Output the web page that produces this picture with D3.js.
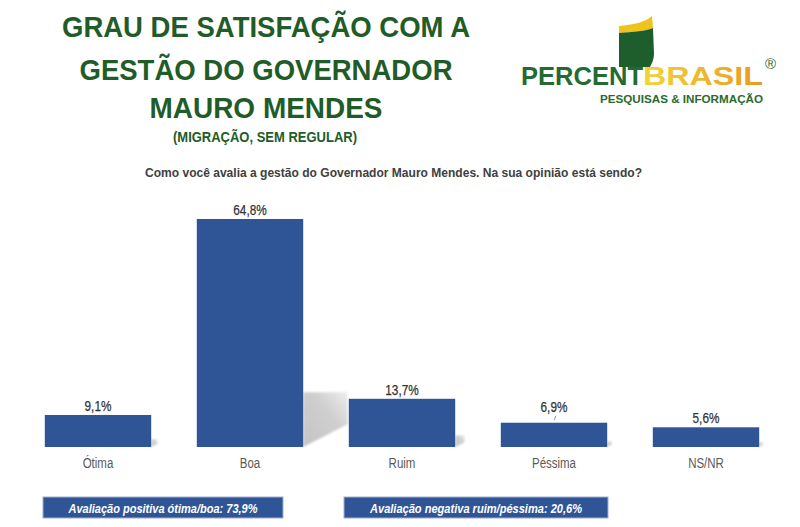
<!DOCTYPE html>
<html>
<head>
<meta charset="utf-8">
<script src="https://cdn.jsdelivr.net/npm/d3@7"></script>
<style>
  html, body { margin: 0; padding: 0; background: #fff; }
  svg { display: block; }
</style>
</head>
<body>
<svg id="chart" width="800" height="527"></svg>
<script>
// data
var categories = ['Ótima', 'Boa', 'Ruim', 'Péssima', 'NS/NR'];
var values = [9.1, 64.8, 13.7, 6.9, 5.6];
var valueLabels = ['9,1%', '64,8%', '13,7%', '6,9%', '5,6%'];
var titleLines = ['GRAU DE SATISFAÇÃO COM A', 'GESTÃO DO GOVERNADOR', 'MAURO MENDES'];
var subtitle = '(MIGRAÇÃO, SEM REGULAR)';
var question = 'Como você avalia a gestão do Governador Mauro Mendes. Na sua opinião está sendo?';
var summaryLabels = ['Avaliação positiva ótima/boa: 73,9%', 'Avaliação negativa ruim/péssima: 20,6%'];

var narrow = '"Liberation Sans Narrow", "Arial Narrow", "Liberation Sans", Arial, sans-serif';
var barColor = '#2f5597';
var green = '#1f5c28';

// no narrow face installed: squeeze the regular one horizontally
function squeeze(sel, k) {
    sel.each(function () {
        var w = this.getComputedTextLength();
        d3.select(this)
            .attr('textLength', w * k)
            .attr('lengthAdjust', 'spacingAndGlyphs');
    });
}

var svg = d3.select('#chart');
var defs = svg.append('defs');

var shadowGrad = defs.append('linearGradient')
    .attr('id', 'shadowGrad')
    .attr('x1', 0).attr('y1', 1).attr('x2', 1).attr('y2', 0);
shadowGrad.append('stop').attr('offset', 0).attr('stop-color', '#c4c4c4');
shadowGrad.append('stop').attr('offset', 0.6).attr('stop-color', '#cfcfcf');
shadowGrad.append('stop').attr('offset', 1).attr('stop-color', '#ededed');
defs.append('filter').attr('id', 'soft')
    .append('feGaussianBlur').attr('stdDeviation', 1.2);

var brasilGrad = defs.append('linearGradient').attr('id', 'brasilGrad');
brasilGrad.append('stop').attr('offset', 0).attr('stop-color', '#f3d43a');
brasilGrad.append('stop').attr('offset', 1).attr('stop-color', '#e89a22');

// ---- title block
var titleBaselines = [37, 80, 118];
var titleWidths = [408, 373, 233];
svg.append('g').selectAll('text')
    .data(titleLines)
    .enter().append('text')
    .attr('x', 266)
    .attr('y', function (d, i) { return titleBaselines[i]; })
    .attr('text-anchor', 'middle')
    .attr('textLength', function (d, i) { return titleWidths[i]; })
    .attr('lengthAdjust', 'spacingAndGlyphs')
    .style('font', 'bold 30px ' + narrow)
    .style('fill', green)
    .text(function (d) { return d; });

svg.append('text')
    .attr('x', 265).attr('y', 142)
    .attr('text-anchor', 'middle')
    .attr('textLength', 184)
    .attr('lengthAdjust', 'spacingAndGlyphs')
    .style('font', 'bold 15px ' + narrow)
    .style('fill', green)
    .text(subtitle);

// ---- logo
var logo = svg.append('g');
logo.append('path')
    .attr('d', 'M619,26 C632,25 646,22 652,16 L653,28 C646,31 632,32 619,33 Z')
    .attr('fill', '#f0c21c');
logo.append('path')
    .attr('d', 'M619,33 C632,32 646,31 653,28 L654,54 C654,59 652,63 650,67 L619,67 Z')
    .attr('fill', '#1d5e2c');
logo.append('text')
    .attr('x', 521).attr('y', 85)
    .attr('textLength', 122)
    .attr('lengthAdjust', 'spacingAndGlyphs')
    .style('font', 'bold 25px ' + narrow)
    .style('fill', '#236b30')
    .text('PERCENT');
logo.append('text')
    .attr('x', 643).attr('y', 85)
    .attr('textLength', 120)
    .attr('lengthAdjust', 'spacingAndGlyphs')
    .style('font', 'bold 25px ' + narrow)
    .style('fill', 'url(#brasilGrad)')
    .text('BRASIL');
logo.append('text')
    .attr('x', 765).attr('y', 69)
    .style('font', '15px ' + narrow)
    .style('fill', '#2a6a2e')
    .text('®');
logo.append('text')
    .attr('x', 600).attr('y', 103)
    .attr('textLength', 163)
    .attr('lengthAdjust', 'spacingAndGlyphs')
    .style('font', 'bold 11px ' + narrow)
    .style('fill', '#2a6a2e')
    .text('PESQUISAS & INFORMAÇÃO');

// ---- question
svg.append('text')
    .attr('x', 393.5).attr('y', 177)
    .attr('text-anchor', 'middle')
    .attr('textLength', 497)
    .attr('lengthAdjust', 'spacingAndGlyphs')
    .style('font', 'bold 13px ' + narrow)
    .style('fill', '#404040')
    .text(question);

// ---- bars
var x = d3.scaleBand()
    .domain(categories)
    .range([22, 782])
    .paddingInner(0.3)
    .paddingOuter(0.15);
var y = d3.scaleLinear()
    .domain([0, d3.max(values)])
    .range([447, 219]);
var bw = x.bandwidth();
var rows = categories.map(function (c, i) {
    return { cat: c, value: values[i], label: valueLabels[i] };
});

// floor shadow behind each bar
svg.append('g').selectAll('polygon')
    .data(rows)
    .enter().append('polygon')
    .attr('points', function (d) {
        var x1 = x(d.cat) + bw, b = y(0), h = y(0) - y(d.value);
        return [[x1, b - 0.24 * h], [x1 + 0.195 * h, b - 0.24 * h],
                [x1 + 0.195 * h, b - 0.1 * h], [x1, b]].join(' ');
    })
    .attr('fill', 'url(#shadowGrad)')
    .attr('filter', 'url(#soft)');

svg.append('g').selectAll('rect')
    .data(rows)
    .enter().append('rect')
    .attr('x', function (d) { return x(d.cat); })
    .attr('y', function (d) { return y(d.value); })
    .attr('width', bw)
    .attr('height', function (d) { return y(0) - y(d.value); })
    .attr('fill', barColor);

// value labels (Péssima sits higher with a small leader)
var lift = function (d) { return d.cat === 'Péssima' ? 11 : 4; };
svg.append('g').selectAll('text')
    .data(rows)
    .enter().append('text')
    .attr('x', function (d) { return x(d.cat) + bw / 2; })
    .attr('y', function (d) { return y(d.value) - lift(d); })
    .attr('text-anchor', 'middle')
    .style('font', '14px ' + narrow)
    .style('fill', '#333')
    .style('stroke', '#333')
    .style('stroke-width', 0.25)
    .text(function (d) { return d.label; })
    .call(squeeze, 0.84);
svg.append('line')
    .attr('x1', x('Péssima') + bw / 2 + 2).attr('y1', y(6.9) - 7)
    .attr('x2', x('Péssima') + bw / 2).attr('y2', y(6.9) - 2.5)
    .attr('stroke', '#777').attr('stroke-width', 0.8);

// category labels
svg.append('g').selectAll('text')
    .data(categories)
    .enter().append('text')
    .attr('x', function (d) { return x(d) + bw / 2; })
    .attr('y', 468)
    .attr('text-anchor', 'middle')
    .style('font', '14px ' + narrow)
    .style('fill', '#595959')
    .text(function (d) { return d; })
    .call(squeeze, 0.82);

// ---- summary boxes
var boxes = [
    { x0: 43, x1: 283, tw: 189 },
    { x0: 344, x1: 608, tw: 212 }
];
var box = svg.append('g').selectAll('g')
    .data(summaryLabels)
    .enter().append('g');
box.append('rect')
    .attr('x', function (d, i) { return boxes[i].x0; })
    .attr('y', 497)
    .attr('width', function (d, i) { return boxes[i].x1 - boxes[i].x0; })
    .attr('height', 21)
    .attr('fill', barColor)
    .attr('stroke', '#9fb0d0')
    .attr('stroke-width', 1);
box.append('text')
    .attr('x', function (d, i) { return (boxes[i].x0 + boxes[i].x1) / 2; })
    .attr('y', 513)
    .attr('text-anchor', 'middle')
    .attr('textLength', function (d, i) { return boxes[i].tw; })
    .attr('lengthAdjust', 'spacingAndGlyphs')
    .style('font', 'italic bold 13px ' + narrow)
    .style('fill', '#fff')
    .text(function (d) { return d; });
</script>
</body>
</html>
